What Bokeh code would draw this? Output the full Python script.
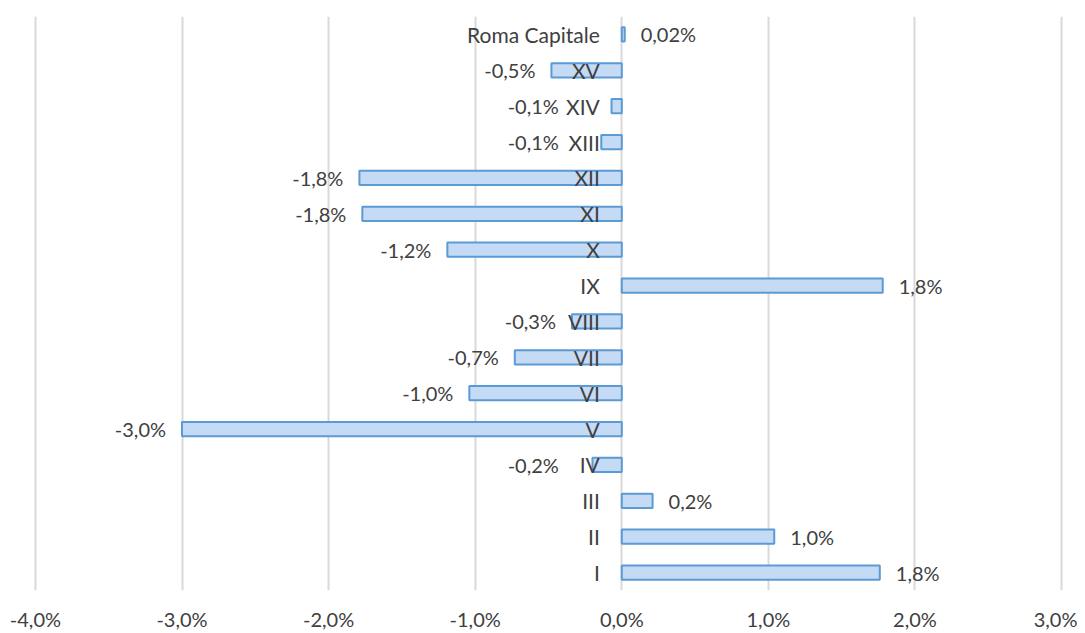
from bokeh.plotting import figure
from bokeh.models import ColumnDataSource, FixedTicker, CustomJSTickFormatter, Range1d
from bokeh.core.properties import value
from bokeh.embed import file_html
from bokeh.resources import INLINE

categories = ["I", "II", "III", "IV", "V", "VI", "VII", "VIII", "IX", "X",
              "XI", "XII", "XIII", "XIV", "XV", "Roma Capitale"]
values = [1.76, 1.04, 0.21, -0.20, -3.00, -1.04, -0.73, -0.34, 1.78, -1.19,
          -1.77, -1.79, -0.14, -0.07, -0.48, 0.02]
value_labels = ["1,8%", "1,0%", "0,2%", "-0,2%", "-3,0%", "-1,0%", "-0,7%", "-0,3%",
                "1,8%", "-1,2%", "-1,8%", "-1,8%", "-0,1%", "-0,1%", "-0,5%", "0,02%"]
x_ticks = [-4, -3, -2, -1, 0, 1, 2, 3]

FONT = "Lato"
TXT = "#404040"
NEG_LABEL_LIMIT = -0.32  # small negative labels are pushed left of the category names

pos_idx = [i for i, v in enumerate(values) if v >= 0]
neg_idx = [i for i, v in enumerate(values) if v < 0]

src = ColumnDataSource(dict(cat=categories, val=values, lab=value_labels,
                            zero=[0] * len(values)))
src_pos = ColumnDataSource(dict(cat=[categories[i] for i in pos_idx],
                                val=[values[i] for i in pos_idx],
                                lab=[value_labels[i] for i in pos_idx]))
src_neg = ColumnDataSource(dict(cat=[categories[i] for i in neg_idx],
                                val=[min(values[i], NEG_LABEL_LIMIT) for i in neg_idx],
                                lab=[value_labels[i] for i in neg_idx]))

p = figure(width=1077, height=633, y_range=categories, x_range=Range1d(-4.02, 3.02),
           output_backend="svg", toolbar_location=None,
           min_border_left=32, min_border_right=13, min_border_top=16, min_border_bottom=40)
p.outline_line_color = None
p.background_fill_color = "white"

p.hbar(y="cat", right="val", left=0, height=0.4, source=src,
       fill_color="#c5daf4", line_color="#5b9bd5", line_width=2)

p.text(x="zero", y="cat", text="cat", source=src, x_offset=-22,
       text_align="right", text_baseline="middle", text_font=value(FONT),
       text_font_size="21px", text_color=TXT)
p.text(x="val", y="cat", text="lab", source=src_pos, x_offset=16,
       text_align="left", text_baseline="middle", text_font=value(FONT),
       text_font_size="20px", text_color=TXT)
p.text(x="val", y="cat", text="lab", source=src_neg, x_offset=-16,
       text_align="right", text_baseline="middle", text_font=value(FONT),
       text_font_size="20px", text_color=TXT)

p.yaxis.visible = False
p.ygrid.grid_line_color = None
p.xgrid.grid_line_color = "#d9d9d9"
p.xgrid.grid_line_width = 2
p.xaxis.ticker = FixedTicker(ticks=x_ticks)
p.xaxis.formatter = CustomJSTickFormatter(
    code="return tick.toFixed(1).replace('.', ',') + '%';")
p.xaxis.axis_line_color = None
p.xaxis.major_tick_line_color = None
p.xaxis.minor_tick_line_color = None
p.xaxis.major_label_standoff = 10
p.xaxis.major_label_text_font = FONT
p.xaxis.major_label_text_font_size = "20px"
p.xaxis.major_label_text_color = TXT

open("out.html", "w").write(file_html(p, INLINE))
